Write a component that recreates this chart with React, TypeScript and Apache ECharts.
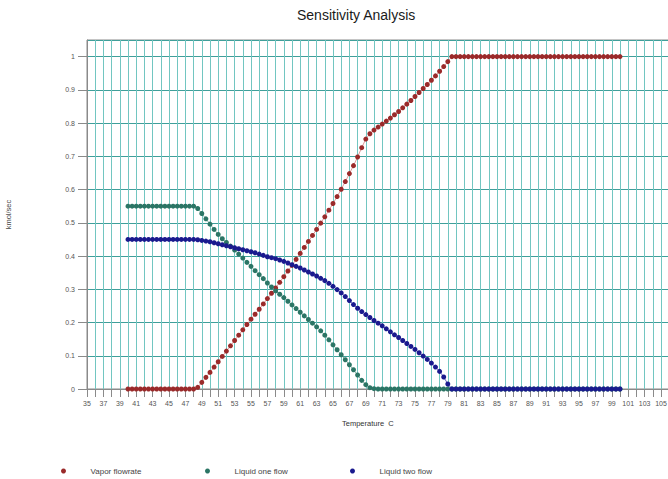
import React, { useEffect, useRef } from "react";
import * as echarts from "echarts";

const FONT = "'Liberation Sans', Arial, sans-serif";

const temperatures = [
  40, 40.5, 41, 41.5, 42, 42.5, 43, 43.5, 44, 44.5, 45, 45.5, 46, 46.5, 47, 47.5, 48,
  48.5, 49, 49.5, 50, 50.5, 51, 51.5, 52, 52.5, 53, 53.5, 54, 54.5, 55, 55.5, 56, 56.5,
  57, 57.5, 58, 58.5, 59, 59.5, 60, 60.5, 61, 61.5, 62, 62.5, 63, 63.5, 64, 64.5, 65,
  65.5, 66, 66.5, 67, 67.5, 68, 68.5, 69, 69.5, 70, 70.5, 71, 71.5, 72, 72.5, 73, 73.5,
  74, 74.5, 75, 75.5, 76, 76.5, 77, 77.5, 78, 78.5, 79, 79.5, 80, 80.5, 81, 81.5, 82,
  82.5, 83, 83.5, 84, 84.5, 85, 85.5, 86, 86.5, 87, 87.5, 88, 88.5, 89, 89.5, 90, 90.5,
  91, 91.5, 92, 92.5, 93, 93.5, 94, 94.5, 95, 95.5, 96, 96.5, 97, 97.5, 98, 98.5, 99,
  99.5, 100,
];

const vaporFlowrate = [
  0, 0, 0, 0, 0, 0, 0, 0, 0, 0, 0, 0, 0, 0, 0, 0, 0,
  0.005, 0.02, 0.035, 0.05, 0.066, 0.082, 0.098, 0.114, 0.13, 0.146, 0.162, 0.178, 0.194,
  0.21, 0.225, 0.24, 0.256, 0.272, 0.288, 0.304, 0.321, 0.338, 0.355, 0.372, 0.39, 0.408,
  0.426, 0.444, 0.462, 0.48, 0.499, 0.518, 0.538, 0.558, 0.579, 0.601, 0.624, 0.648, 0.672,
  0.698, 0.726, 0.752, 0.768, 0.779, 0.788, 0.797, 0.806, 0.815, 0.825, 0.835, 0.846, 0.857,
  0.868, 0.88, 0.892, 0.904, 0.916, 0.929, 0.942, 0.956, 0.97, 0.985, 1,
  1, 1, 1, 1, 1, 1, 1, 1, 1, 1, 1, 1, 1, 1, 1, 1, 1, 1, 1, 1, 1,
  1, 1, 1, 1, 1, 1, 1, 1, 1, 1, 1, 1, 1, 1, 1, 1, 1, 1, 1, 1,
];

const liquidOneFlow = [
  0.55, 0.55, 0.55, 0.55, 0.55, 0.55, 0.55, 0.55, 0.55, 0.55, 0.55, 0.55, 0.55, 0.55, 0.55, 0.55, 0.55,
  0.543, 0.528, 0.512, 0.496, 0.48, 0.465, 0.452, 0.441, 0.43, 0.418, 0.406, 0.394, 0.381,
  0.369, 0.356, 0.344, 0.332, 0.319, 0.307, 0.295, 0.285, 0.275, 0.264, 0.253, 0.242, 0.231,
  0.22, 0.209, 0.198, 0.187, 0.175, 0.162, 0.148, 0.133, 0.118, 0.103, 0.088, 0.073, 0.058,
  0.042, 0.026, 0.013, 0.004, 0.001,
  0, 0, 0, 0, 0, 0, 0, 0, 0, 0, 0, 0, 0, 0, 0, 0, 0, 0, 0, 0,
  0, 0, 0, 0, 0, 0, 0, 0, 0, 0, 0, 0, 0, 0, 0, 0, 0, 0, 0, 0,
  0, 0, 0, 0, 0, 0, 0, 0, 0, 0, 0, 0, 0, 0, 0, 0, 0, 0, 0, 0,
];

const liquidTwoFlow = [
  0.45, 0.45, 0.45, 0.45, 0.45, 0.45, 0.45, 0.45, 0.45, 0.45, 0.45, 0.45, 0.45, 0.45, 0.45, 0.45, 0.45,
  0.449, 0.447, 0.445, 0.443, 0.44, 0.437, 0.434, 0.431, 0.428, 0.425, 0.422, 0.419, 0.416,
  0.413, 0.41, 0.406, 0.402, 0.398, 0.395, 0.392, 0.388, 0.384, 0.379, 0.374, 0.369, 0.364,
  0.358, 0.352, 0.346, 0.34, 0.333, 0.326, 0.318, 0.309, 0.299, 0.289, 0.278, 0.266, 0.254,
  0.243, 0.233, 0.224, 0.215, 0.206, 0.198, 0.19, 0.181, 0.172, 0.163, 0.155, 0.146, 0.137,
  0.128, 0.119, 0.109, 0.099, 0.089, 0.078, 0.066, 0.053, 0.036, 0.015, 0,
  0, 0, 0, 0, 0, 0, 0, 0, 0, 0, 0, 0, 0, 0, 0, 0, 0, 0, 0, 0, 0,
  0, 0, 0, 0, 0, 0, 0, 0, 0, 0, 0, 0, 0, 0, 0, 0, 0, 0, 0, 0,
];

const seriesNames = ["Vapor flowrate", "Liquid one flow", "Liquid two flow"];
const seriesValues = [vaporFlowrate, liquidOneFlow, liquidTwoFlow];
const dotColors = ["#9a2a2a", "#2b7565", "#1a1a8e"];
const lineColors = ["#e09a9a", "#7fb3a8", "#6c6cc0"];

const X_MIN = 35;
const X_MAX = 106;
const Y_MAX = 1.05;

export default function App() {
  const ref = useRef<HTMLDivElement>(null);

  useEffect(() => {
    if (!ref.current) return;
    const chart = echarts.init(ref.current, null, { renderer: "svg" });
    const legendLefts = [56, 200, 345];

    const option: any = {
      animation: false,
      backgroundColor: "#ffffff",
      title: {
        text: "Sensitivity Analysis",
        left: 292,
        top: 3,
        textStyle: { fontSize: 14, fontWeight: "normal", color: "#1a1a1a", fontFamily: FONT },
      },
      legend: seriesNames.map((n, i) => ({
        data: [n],
        left: legendLefts[i],
        top: 462,
        icon: "circle",
        itemWidth: 44,
        itemHeight: 5,
        itemGap: 0,
        selectedMode: false,
        textStyle: { fontSize: 8, color: "#444", fontFamily: FONT, padding: [0, 0, 0, 0] },
      })),
      grid: {
        left: 87,
        top: 40,
        width: (X_MAX - X_MIN) * 8.2,
        height: 349,
        containLabel: false,
        outerBoundsMode: "none",
        show: true,
        borderColor: "#8a8a8a",
        borderWidth: 1,
      },
      xAxis: {
        type: "value",
        min: X_MIN,
        max: X_MAX,
        interval: 1,
        axisLine: { show: true, onZero: false, lineStyle: { color: "#8a8a8a", width: 1 } },
        axisTick: { show: true, length: 8, lineStyle: { color: "#8a8a8a" } },
        axisLabel: {
          fontSize: 7,
          color: "#555",
          fontFamily: FONT,
          margin: 11,
          formatter: (v: number) => (Math.abs(v % 2) === 1 ? String(v) : ""),
        },
        splitLine: { show: true, lineStyle: { color: "#72c6c1", width: 1 } },
      },
      yAxis: {
        type: "value",
        min: 0,
        max: Y_MAX,
        interval: 0.1,
        name: "kmol/sec",
        nameLocation: "middle",
        nameGap: 75,
        nameRotate: 90,
        nameTextStyle: { fontSize: 7.5, color: "#444", fontFamily: FONT },
        axisLine: { show: true, lineStyle: { color: "#8a8a8a", width: 1 } },
        axisTick: { show: true, length: 9, lineStyle: { color: "#8a8a8a" } },
        axisLabel: {
          fontSize: 7,
          color: "#555",
          fontFamily: FONT,
          margin: 12,
          showMaxLabel: false,
          formatter: (v: number) => (v > 1.001 ? "" : String(Math.round(v * 10) / 10)),
        },
        splitLine: { show: true, lineStyle: { color: "#3f9f9a", width: 1 } },
      },
      graphic: [
        {
          type: "text",
          left: 342,
          top: 419,
          style: { text: "Temperature  C", fontSize: 7.5, fill: "#333", fontFamily: FONT },
        },
      ],
      series: seriesNames.map((name, si) => ({
        name,
        type: "line",
        data: temperatures.map((t, i) => [t, seriesValues[si][i]]),
        symbol: "circle",
        symbolSize: 5,
        showSymbol: true,
        showAllSymbol: true,
        itemStyle: { color: dotColors[si] },
        lineStyle: { color: lineColors[si], width: 1 },
        emphasis: { disabled: true },
        z: 3 + si,
      })),
    };

    chart.setOption(option);
    return () => chart.dispose();
  }, []);

  return (
    <div
      ref={ref}
      style={{ position: "fixed", left: 0, top: 0, width: 668, height: 479, background: "#fff" }}
    />
  );
}
